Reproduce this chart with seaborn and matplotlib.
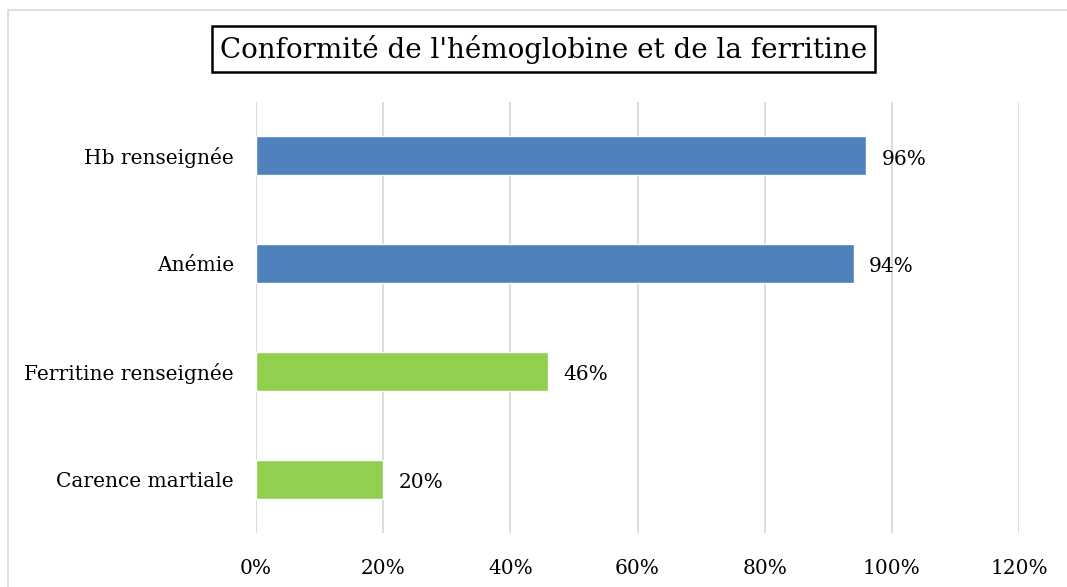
import matplotlib
matplotlib.use("Agg")
import matplotlib.pyplot as plt
import seaborn as sns
import pandas as pd
from matplotlib.patches import Rectangle

categories = ["Hb renseignée", "Anémie", "Ferritine renseignée", "Carence martiale"]
values = [96, 94, 46, 20]
colors = ["#4F81BD", "#4F81BD", "#92D050", "#92D050"]
xticks = [0, 20, 40, 60, 80, 100, 120]

data = pd.DataFrame({"cat": categories, "val": values})

sns.set_style("white")
plt.rcParams["font.family"] = ["DejaVu Serif"]

fig = plt.figure(figsize=(10.67, 5.87), dpi=100)
ax = fig.add_axes([256 / 1067, 1 - 533 / 587, (1019 - 256) / 1067, (533 - 102) / 587])

sns.barplot(data=data, x="val", y="cat", hue="cat", palette=colors, legend=False,
            width=0.36, orient="h", ax=ax, saturation=1)

ax.set_xlim(0, 120)
ax.set_ylim(3.5, -0.5)
ax.set_xticks(xticks)
ax.set_xticklabels([f"{t}%" for t in xticks], fontsize=14.5, color="black")
ax.tick_params(axis="y", labelsize=14.5, length=0, pad=16, labelcolor="black")
ax.tick_params(axis="x", length=0, pad=19)
ax.set_xlabel("")
ax.set_ylabel("")
ax.grid(axis="x", color="#d9d9d9", linewidth=1.3)
ax.set_axisbelow(True)
for s in ax.spines.values():
    s.set_visible(False)

for i, v in enumerate(values):
    ax.text(v + 2.4, i + 0.03, f"{v}%", va="center", ha="left", fontsize=14.5, color="black")

fig.text(543.5 / 1067, 1 - 49 / 587, "Conformité de l'hémoglobine et de la ferritine",
         ha="center", va="center", fontsize=20, color="black",
         bbox=dict(boxstyle="square,pad=0.3", facecolor="white", edgecolor="black", linewidth=1.8))

fig.patches.append(Rectangle((8 / 1067, -0.1), 1.2, 1 - 10 / 587 + 0.1,
                             transform=fig.transFigure, fill=False,
                             edgecolor="#d9d9d9", linewidth=1.2))

fig.savefig("out.png", dpi=100)
